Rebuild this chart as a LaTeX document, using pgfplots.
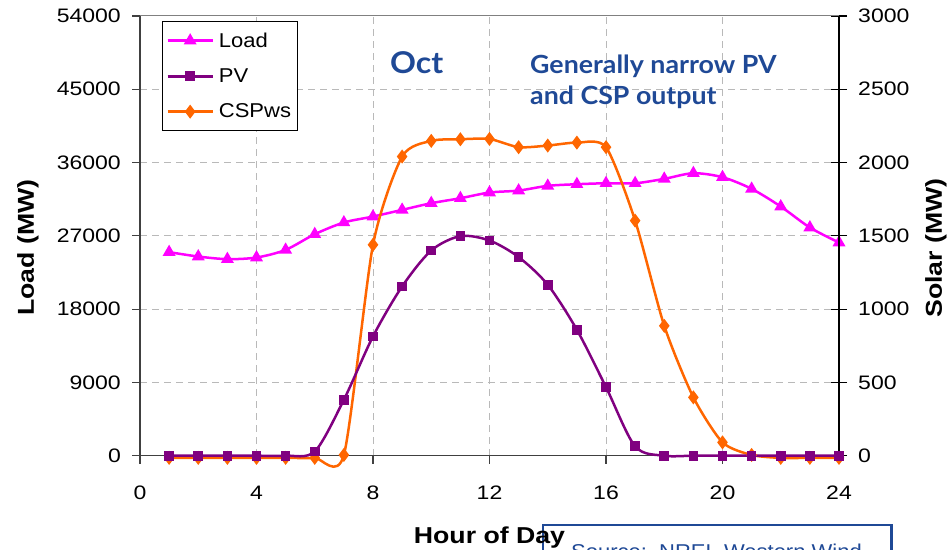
\documentclass[border=0pt]{standalone}
\usepackage{pgfplots}
\pgfplotsset{compat=1.18}
\usepackage{pgfplotstable}
\usepackage{fontspec}
\setmainfont{Liberation Sans}[FakeStretch=1.18]
\newfontfamily\tickfont{Liberation Sans}[FakeStretch=1.18]
\newfontfamily\labfont{Liberation Sans}[FakeStretch=1.16]
\newfontfamily\legfont{Liberation Sans}[FakeStretch=1.1]
\newfontfamily\gefont{Lato}[FakeStretch=1.07]
\definecolor{cLoad}{RGB}{255,0,255}
\definecolor{cPV}{RGB}{128,0,128}
\definecolor{cCSP}{RGB}{255,102,0}
\definecolor{geblue}{RGB}{31,73,150}
\definecolor{gridc}{RGB}{185,185,185}
\definecolor{axc}{RGB}{64,64,64}
\tikzset{
  ylabL/.style={anchor=east, inner sep=0pt, font=\tickfont\fontsize{19.5}{21}\selectfont, xshift=-19pt},
  ylabR/.style={anchor=west, inner sep=0pt, font=\tickfont\fontsize{19.5}{21}\selectfont, xshift=19pt},
}

\pgfplotstableread{
h load
1 25000
2 24460
3 24140
4 24340
5 25280
6 27200
7 28640
8 29370
9 30190
10 31010
11 31620
12 32320
13 32560
14 33140
15 33340
16 33460
17 33460
18 34000
19 34690
20 34200
21 32770
22 30600
23 28020
24 26180
}\loadtab

\pgfplotstableread{
h pv
1 0
2 0
3 0
4 0
5 0
6 29
7 382
8 814
9 1155
10 1400
11 1498
12 1468
13 1355
14 1166
15 859
16 468
17 64
18 0
19 0
20 0
21 0
22 0
23 0
24 0
}\pvtab

\pgfplotstableread{
h csp
1 -15
2 -15
3 -15
4 -15
5 -15
6 -15
7 5
8 1439
9 2041
10 2148
11 2159
12 2161
13 2105
14 2116
15 2136
16 2105
17 1604
18 886
19 398
20 91
21 5
22 -15
23 -15
24 -15
}\csptab

\begin{document}
\begin{tikzpicture}
% source box (behind)
\draw[geblue, line width=2.5pt, fill=white] (543pt,-30pt) rectangle (891.5pt,24pt);
\node[anchor=base west, text=geblue, font=\legfont\fontsize{20}{20}\selectfont, inner sep=0pt] at (571pt,-9pt) {Source:\ \ NREL Western Wind};

\begin{axis}[
  at={(140pt,93.3pt)}, anchor=south west, scale only axis,
  width=699pt, height=439.7pt,
  xmin=0, xmax=24, ymin=0, ymax=54000,
  xtick={0,4,...,24}, ytick={0,9000,...,54000},
  scaled x ticks=false, scaled y ticks=false,
  xticklabels={0,4,8,12,16,20,24},
  yticklabels={},
  axis x line*=bottom, axis y line*=left,
  axis line style={axc, line width=1.2pt},
  tick style={axc, line width=1.2pt},
  tick align=outside, major tick length=8pt,
  grid=major, major grid style={gridc, line width=1pt, dash pattern=on 7pt off 5pt},
  xticklabel style={font=\tickfont\fontsize{19.5}{21}\selectfont, yshift=-19pt},
  clip=false,
]
\addplot[cLoad, line width=2.5pt, smooth, mark=triangle*, mark size=5pt] table[x=h,y=load]{\loadtab};
\node[ylabL] at (axis cs:0,0) {0};
\node[ylabL] at (axis cs:0,9000) {9000};
\node[ylabL] at (axis cs:0,18000) {18000};
\node[ylabL] at (axis cs:0,27000) {27000};
\node[ylabL] at (axis cs:0,36000) {36000};
\node[ylabL] at (axis cs:0,45000) {45000};
\node[ylabL] at (axis cs:0,54000) {54000};
\end{axis}

\begin{axis}[
  at={(140pt,93.3pt)}, anchor=south west, scale only axis,
  width=699pt, height=439.7pt,
  xmin=0, xmax=24, ymin=0, ymax=3000,
  axis x line=none, axis y line*=right,
  ytick={0,500,...,3000}, scaled y ticks=false,
  yticklabels={},
  axis line style={black, line width=1.2pt},
  tick style={black, line width=1.2pt},
  tick align=center, major tick length=16pt,
  clip=false,
  legend style={at={(0.0315,0.988)}, anchor=north west, draw=black, line width=0.8pt,
    font=\legfont\fontsize{20}{22}\selectfont, row sep=16pt, column sep=3pt, inner xsep=4pt, inner ysep=9pt},
  legend cell align=left,
  legend image code/.code={\draw[mark repeat=2, mark phase=2] plot coordinates {(0pt,0pt) (22.5pt,0pt) (45pt,0pt)};},
]
\addlegendimage{cLoad, line width=2.5pt, mark=triangle*, mark size=5pt}
\addlegendimage{cPV, line width=2.5pt, mark=square*, mark size=3.6pt}
\addlegendimage{cCSP, line width=2.5pt, mark=diamond*, mark size=5pt}
\legend{Load,PV,CSPws}
\addplot[forget plot, cCSP, line width=2.5pt, smooth, tension=0.42, mark=diamond*, mark size=5pt] table[x=h,y=csp]{\csptab};
\addplot[forget plot, cPV, line width=2.5pt, smooth, mark=square*, mark size=3.6pt] table[x=h,y=pv]{\pvtab};
\node[ylabR] at (axis cs:24,0) {0};
\node[ylabR] at (axis cs:24,500) {500};
\node[ylabR] at (axis cs:24,1000) {1000};
\node[ylabR] at (axis cs:24,1500) {1500};
\node[ylabR] at (axis cs:24,2000) {2000};
\node[ylabR] at (axis cs:24,2500) {2500};
\node[ylabR] at (axis cs:24,3000) {3000};
\end{axis}

\draw[gray, line width=1pt] (140pt,533pt) -- (839pt,533pt);

\node[anchor=base west, text=geblue, font=\gefont\bfseries\fontsize{30}{30}\selectfont, inner sep=0pt] at (390pt,475.7pt) {Oct};
\node[anchor=base west, text=geblue, font=\gefont\bfseries\fontsize{25}{25}\selectfont, inner sep=0pt] at (530pt,475pt) {Generally narrow PV};
\node[anchor=base west, text=geblue, font=\gefont\bfseries\fontsize{25}{25}\selectfont, inner sep=0pt] at (530pt,444pt) {and CSP output};

\node[rotate=90, font=\labfont\bfseries\fontsize{23}{24}\selectfont] at (28pt,301.5pt) {Load (MW)};
\node[rotate=90, font=\labfont\bfseries\fontsize{23}{24}\selectfont] at (936pt,301pt) {Solar (MW)};
\node[anchor=base, font=\labfont\bfseries\fontsize{23}{24}\selectfont, inner sep=0pt] at (489.5pt,6pt) {Hour of Day};

\pgfresetboundingbox
\useasboundingbox (0pt,0pt) rectangle (947pt,549pt);
\end{tikzpicture}
\end{document}
